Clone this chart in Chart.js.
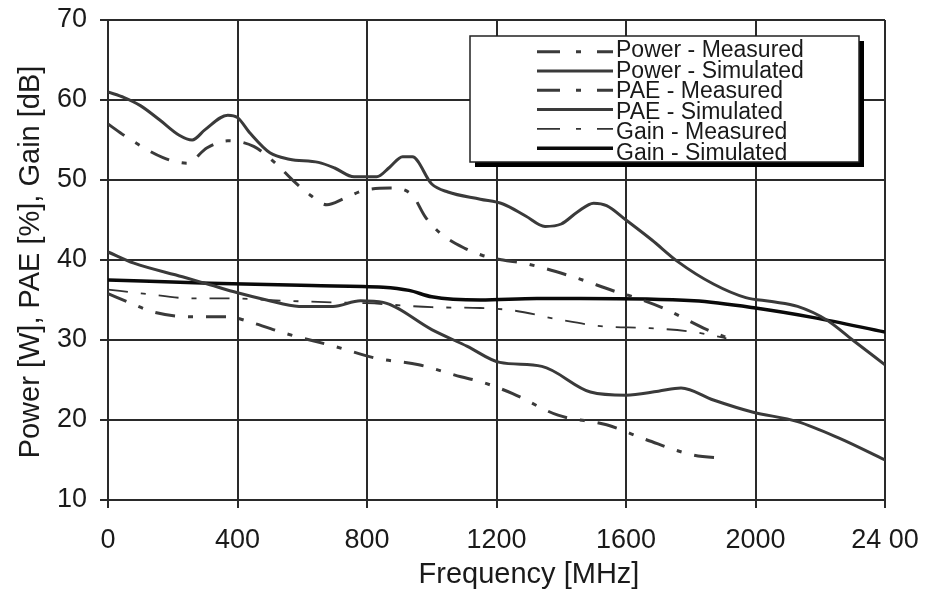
<!DOCTYPE html>
<html>
<head>
<meta charset="utf-8">
<script src="https://cdn.jsdelivr.net/npm/chart.js@4.4.1/dist/chart.umd.min.js"></script>
<style>
  html, body { margin: 0; padding: 0; background: #fff; }
  #wrap { width: 928px; height: 590px; }
</style>
</head>
<body>
<div id="wrap"><canvas id="grafico" width="928" height="590"></canvas></div>
<script>
// frequencies (MHz) and values for each curve
var paeSimFreq = [0, 50, 100, 160, 220, 260, 300, 370, 400, 440, 500, 560, 650, 700, 760, 830, 870, 910, 940, 1000, 1050, 1150, 1220, 1290, 1350, 1400, 1450, 1500, 1540, 1600, 1680, 1760, 1870, 1970, 2050, 2130, 2220, 2300, 2400];
var paeSim = [61, 60.3, 59.3, 57.5, 55.6, 55, 56.3, 58.1, 57.8, 55.8, 53.4, 52.6, 52.2, 51.5, 50.4, 50.4, 51.6, 52.9, 52.9, 49.5, 48.5, 47.6, 47, 45.5, 44.2, 44.5, 46, 47.1, 46.8, 45, 42.5, 39.8, 37, 35.3, 34.8, 34.2, 32.5, 30, 26.9];

var paeMeasFreq = [0, 60, 170, 245, 305, 370, 450, 520, 570, 625, 676, 730, 790, 870, 940, 980, 1025, 1100, 1155, 1220, 1285, 1436, 1572, 1622, 1714, 1850, 1930];
var paeMeas = [57, 55.3, 52.8, 52.1, 54, 54.9, 54.2, 52, 50, 48.1, 46.9, 47.7, 48.7, 49, 48.1, 45.4, 43.4, 41.5, 40.6, 40, 39.6, 37.9, 36, 35.4, 34, 31.3, 30];

var powSimFreq = [0, 80, 230, 315, 400, 490, 590, 695, 780, 850, 1000, 1110, 1210, 1340, 1490, 1600, 1700, 1770, 1870, 1990, 2130, 2260, 2400];
var powSim = [41, 39.6, 37.9, 36.9, 35.9, 35, 34.2, 34.2, 34.9, 34.7, 31.3, 29.2, 27.2, 26.7, 23.5, 23.1, 23.6, 24, 22.5, 21, 19.8, 17.7, 15];

var powMeasFreq = [0, 70, 140, 260, 370, 450, 550, 700, 830, 960, 1090, 1150, 1250, 1390, 1540, 1665, 1810, 1910];
var powMeas = [35.8, 34.6, 33.5, 32.9, 32.9, 32.1, 30.8, 29.2, 27.7, 26.9, 25.4, 24.8, 23.3, 20.6, 19.4, 17.5, 15.6, 15.2];

var gainSimFreq = [0, 315, 630, 850, 930, 1000, 1150, 1325, 1460, 1810, 2000, 2180, 2400];
var gainSim = [37.5, 37.1, 36.8, 36.6, 36.2, 35.4, 35, 35.2, 35.2, 34.9, 34, 32.8, 31];

var gainMeasFreq = [0, 110, 260, 390, 490, 700, 800, 1000, 1150, 1250, 1400, 1530, 1665, 1810, 1910];
var gainMeas = [36.3, 35.8, 35.2, 35.2, 35, 34.7, 34.6, 34.1, 34, 33.7, 32.5, 31.7, 31.5, 31, 30.2];

var xTickLabels = ['0', '400', '800', '1200', '1600', '2000', '24 00'];
var yTicks = [10, 20, 30, 40, 50, 60, 70];

var FUENTE = "'Liberation Sans', Arial, sans-serif";
var GUION = [20, 13, 5, 13];

function puntos(frec, val) {
  return frec.map(function (f, i) { return { x: f, y: val[i] }; });
}

function serie(nombre, frec, val, color, ancho, guion) {
  return {
    label: nombre,
    data: puntos(frec, val),
    borderColor: color,
    borderWidth: ancho,
    borderDash: guion || [],
    pointRadius: 0,
    fill: false,
    cubicInterpolationMode: 'monotone'
  };
}

// boxed legend with drop shadow, top right
var leyendaCaja = {
  id: 'leyendaCaja',
  afterDatasetsDraw: function (chart) {
    var ctx = chart.ctx;
    var x0 = 470, y0 = 36, w = 389, h = 126;
    ctx.save();
    ctx.fillStyle = '#000';
    ctx.fillRect(x0 + 5, y0 + 5, w, h);
    ctx.fillStyle = '#fff';
    ctx.fillRect(x0, y0, w, h);
    ctx.strokeStyle = '#222';
    ctx.lineWidth = 1.5;
    ctx.strokeRect(x0, y0, w, h);

    ctx.font = '23px ' + FUENTE;
    ctx.textBaseline = 'alphabetic';
    ctx.textAlign = 'left';
    chart.data.datasets.forEach(function (ds, i) {
      var ly = 51.7 + i * 19.3;
      ctx.beginPath();
      ctx.strokeStyle = ds.borderColor;
      ctx.lineWidth = ds.borderWidth;
      ctx.setLineDash(ds.borderDash.length ? [23, 16, 5, 16] : []);
      ctx.moveTo(537, ly);
      ctx.lineTo(613, ly);
      ctx.stroke();
      ctx.setLineDash([]);
      ctx.fillStyle = '#1a1a1a';
      ctx.fillText(ds.label, 616, 57 + i * 20.6);
    });
    ctx.restore();
  }
};

// axis titles
var titulosEjes = {
  id: 'titulosEjes',
  afterDraw: function (chart) {
    var ctx = chart.ctx;
    ctx.save();
    ctx.fillStyle = '#1a1a1a';
    ctx.font = '29px ' + FUENTE;
    ctx.textAlign = 'center';
    ctx.textBaseline = 'alphabetic';
    ctx.fillText('Frequency [MHz]', 529, 583);
    ctx.translate(39, 262);
    ctx.rotate(-Math.PI / 2);
    ctx.fillText('Power [W], PAE [%], Gain [dB]', 0, 0);
    ctx.restore();
  }
};

var ctx = document.getElementById('grafico');
var grafico = new Chart(ctx, {
  type: 'line',
  plugins: [leyendaCaja, titulosEjes],
  data: {
    datasets: [
      serie('Power - Measured', powMeasFreq, powMeas, '#3a3a3a', 3, GUION),
      serie('Power - Simulated', powSimFreq, powSim, '#3a3a3a', 3),
      serie('PAE - Measured', paeMeasFreq, paeMeas, '#3a3a3a', 3, GUION),
      serie('PAE - Simulated', paeSimFreq, paeSim, '#3a3a3a', 3),
      serie('Gain - Measured', gainMeasFreq, gainMeas, '#333', 1.8, GUION),
      serie('Gain - Simulated', gainSimFreq, gainSim, '#0a0a0a', 3.5)
    ]
  },
  options: {
    responsive: false,
    animation: false,
    layout: { padding: { top: 20, right: 43, left: 0, bottom: 0 } },
    plugins: {
      legend: { display: false },
      tooltip: { enabled: false }
    },
    scales: {
      x: {
        type: 'linear',
        min: 0,
        max: 2400,
        afterFit: function (scale) {
          scale.height = 90;
          scale.paddingLeft = 0;
          scale.paddingRight = 0;
        },
        afterBuildTicks: function (scale) {
          scale.ticks = xTickLabels.map(function (t, i) { return { value: i * 400 }; });
        },
        ticks: {
          padding: 16,
          maxRotation: 0,
          color: '#1a1a1a',
          font: { family: FUENTE, size: 27 },
          callback: function (value, i) { return xTickLabels[i]; }
        },
        grid: { color: '#2a2a2a', lineWidth: 2, tickLength: 8 },
        border: { color: '#2a2a2a', width: 2 }
      },
      y: {
        min: 10,
        max: 70,
        afterFit: function (scale) {
          scale.width = 108;
          scale.paddingTop = 0;
          scale.paddingBottom = 0;
        },
        afterBuildTicks: function (scale) {
          scale.ticks = yTicks.map(function (v) { return { value: v }; });
        },
        ticks: {
          padding: 13,
          color: '#1a1a1a',
          font: { family: FUENTE, size: 27 }
        },
        grid: { color: '#2a2a2a', lineWidth: 2, tickLength: 8 },
        border: { color: '#2a2a2a', width: 2 }
      }
    }
  }
});
</script>
</body>
</html>
